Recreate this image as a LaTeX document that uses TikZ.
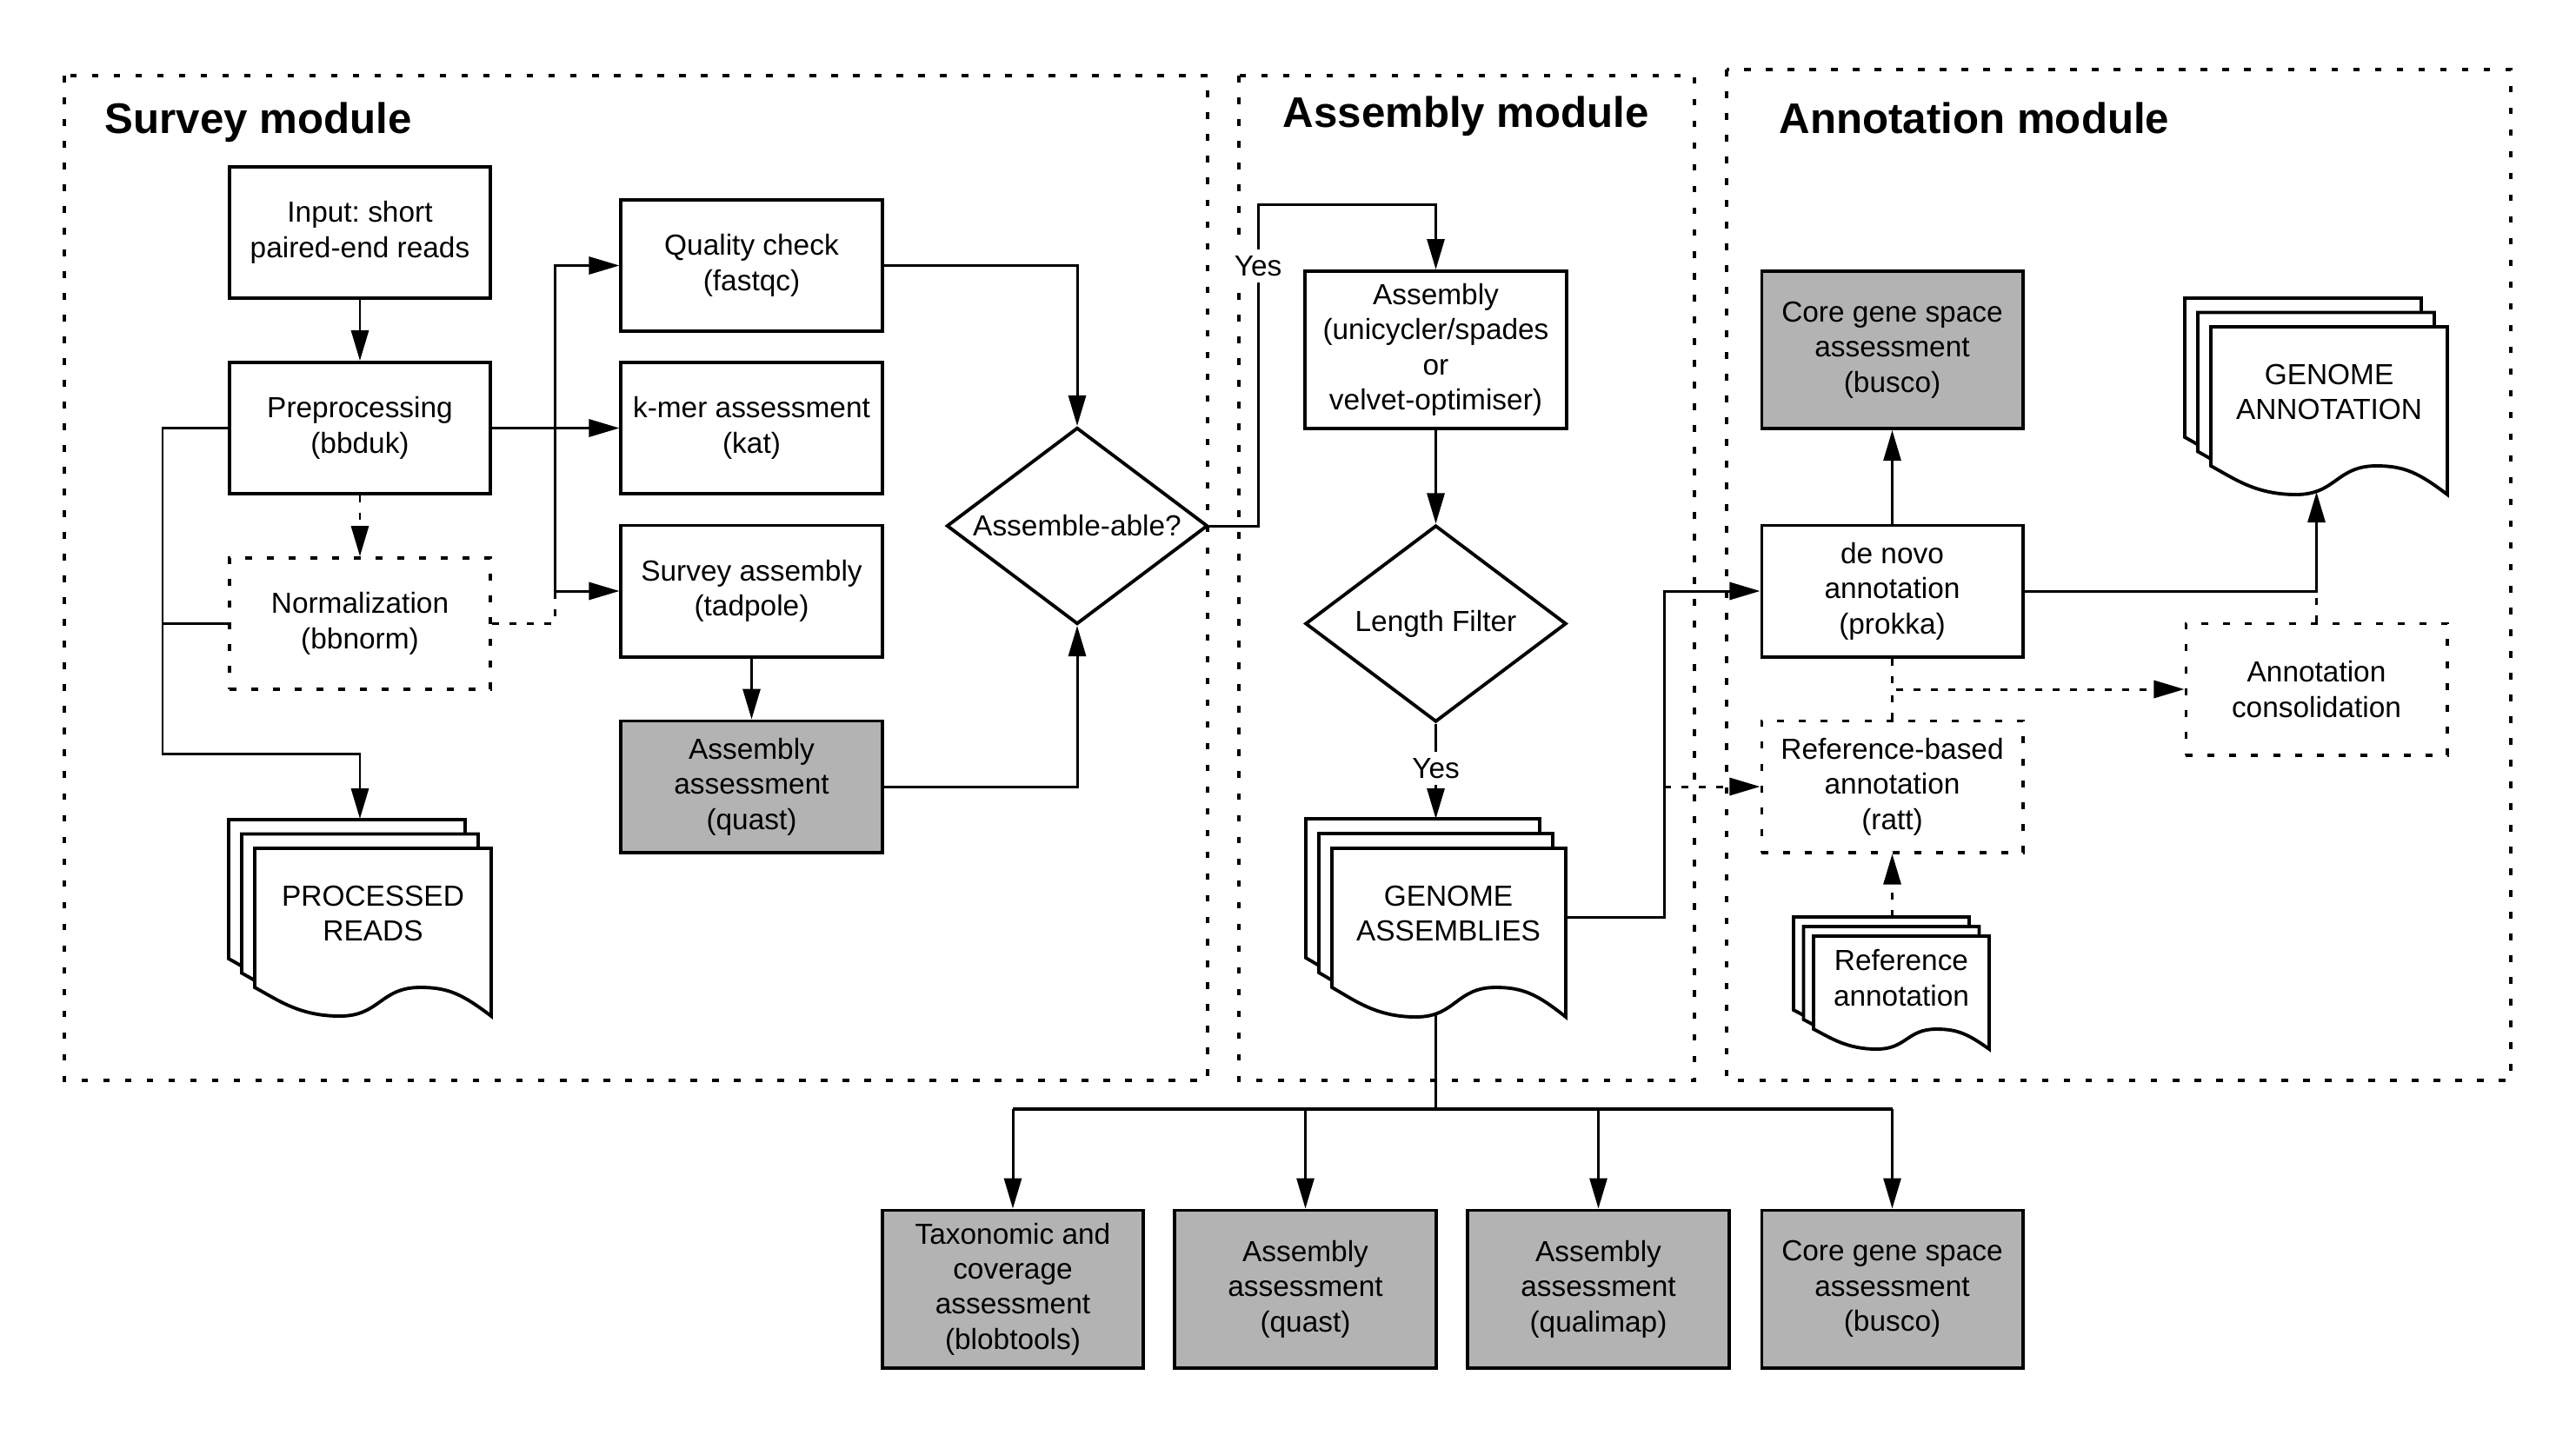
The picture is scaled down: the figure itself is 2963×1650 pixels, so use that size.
\documentclass[tikz,border=0pt]{standalone}
\usepackage{fontspec}
\setmainfont{Liberation Sans}
\frenchspacing
\usetikzlibrary{arrows.meta,shapes.geometric}
\definecolor{boxgray}{RGB}{179,179,179}
\tikzset{
  txt/.style={font=\fontsize{9.5}{11.5}\selectfont, align=center},
  box/.style={txt, draw, line width=1.1pt, fill=white, minimum width=3cm, minimum height=1.51cm, inner sep=1pt},
  tallbox/.style={box, minimum height=1.81cm},
  graybox/.style={tallbox, fill=boxgray},
  dotbox/.style={box, dash pattern=on 0.08cm off 0.17cm},
  decision/.style={draw, diamond, line width=1.1pt, fill=white, inner sep=0pt, minimum width=3cm, minimum height=2.26cm},
  modline/.style={line width=1pt, dash pattern=on 0.075cm off 0.175cm},
  title/.style={font=\bfseries\fontsize{14}{16}\selectfont, anchor=base west, inner sep=0pt},
  conn/.style={line width=0.85pt},
  bus/.style={line width=1.1pt},
  dotl/.style={dash pattern=on 0.08cm off 0.12cm},
  arr/.style={conn, -{Triangle[length=0.35cm,width=0.2cm]}},
  docline/.style={line width=1.1pt, fill=white},
  lbl/.style={txt, fill=white, inner sep=2pt}
}
\newcommand{\docsheet}[5]{% x0, top, w, h, amplitude
  \filldraw[docline] ({#1},{#2}) -- ({#1+#3},{#2}) -- ({#1+#3},{#2+#4})
   .. controls ({#1+0.88*#3},{#2+#4-0.75*#5}) and ({#1+0.82*#3},{#2+#4-#5}) .. ({#1+0.70*#3},{#2+#4-#5})
   .. controls ({#1+0.53*#3},{#2+#4-#5}) and ({#1+0.53*#3},{#2+#4}) .. ({#1+0.36*#3},{#2+#4})
   .. controls ({#1+0.19*#3},{#2+#4}) and ({#1+0.10*#3},{#2+#4-0.55*#5}) .. ({#1},{#2+#4-#5}) -- cycle;}
\newcommand{\multidoc}[7]{% front x0, front top, w, h, amp, dx, dy
  \docsheet{#1-2*#6}{#2-2*#7}{#3}{#4}{#5}
  \docsheet{#1-#6}{#2-#7}{#3}{#4}{#5}
  \docsheet{#1}{#2}{#3}{#4}{#5}}
\begin{document}
\begin{tikzpicture}[x=0.01cm, y=-0.01cm, line join=miter]
\useasboundingbox (0,0) rectangle (2963,1650);

% modules
\draw[modline] (74,87) rectangle (1389,1243);
\draw[modline] (1425,87) rectangle (1949,1243);
\draw[modline] (1986,80) rectangle (2888,1243);
\node[title] (tsurvey) at (120,153) {Survey module};
\node[title] (tassembly) at (1475,146) {Assembly module};
\node[title] (tannot) at (2046,153) {Annotation module};

% coordinates
\coordinate (bp) at (638,492.5);
\coordinate (prtop) at (414,942);
\coordinate (gatop) at (1651.5,942);
\coordinate (gaout) at (1801,1055);
\coordinate (gabot) at (1651.5,1166);
\coordinate (gnin) at (2664.5,566);
\coordinate (ratop) at (2176.5,1055);
\coordinate (busl) at (1165,1276);
\coordinate (busr) at (2176.5,1276);

% documents
\multidoc{293}{976}{272}{193}{33}{15}{16.5}
\node[txt] (procreads) at (429,1051) {PROCESSED\\READS};
\multidoc{1532}{976}{269}{194}{34}{15}{17}
\node[txt] (genasm) at (1666,1051) {GENOME\\ASSEMBLIES};
\multidoc{2543}{376}{272}{193}{33}{15}{16.5}
\node[txt] (genann) at (2679,451) {GENOME\\ANNOTATION};
\multidoc{2086}{1077}{202}{130}{23}{11.5}{11}
\node[txt] (refann) at (2187,1125) {Reference\\annotation};

% survey nodes
\node[box] (input) at (414,267.5) {Input: short\\paired-end reads};
\node[box] (prep) at (414,492.5) {Preprocessing\\(bbduk)};
\node[dotbox] (norm) at (414,717.5) {Normalization\\(bbnorm)};
\node[box] (qc) at (864.5,305.5) {Quality check\\(fastqc)};
\node[box] (kmer) at (864.5,492.5) {k-mer assessment\\(kat)};
\node[box] (survasm) at (864.5,680) {Survey assembly\\(tadpole)};
\node[box, fill=boxgray] (asmassess) at (864.5,905) {Assembly\\assessment\\(quast)};
\node[decision] (able) at (1239,605) {};
\node[txt] (ablet) at (1239,605) {Assemble-able?};

% assembly nodes
\node[tallbox] (assembly) at (1651.5,402.5) {Assembly\\(unicycler/spades\\or\\velvet-optimiser)};
\node[decision] (lenf) at (1651.5,717.5) {};
\node[txt] (lenft) at (1651.5,717.5) {Length Filter};

% annotation nodes
\node[graybox] (busco) at (2176.5,402.5) {Core gene space\\assessment\\(busco)};
\node[box] (denovo) at (2176.5,680) {de novo\\annotation\\(prokka)};
\node[dotbox] (refb) at (2176.5,905) {Reference-based\\annotation\\(ratt)};
\node[dotbox] (cons) at (2664.5,793) {Annotation\\consolidation};

% bottom nodes
\node[graybox] (b1) at (1165,1483) {Taxonomic and\\coverage\\assessment\\(blobtools)};
\node[graybox] (b2) at (1501.5,1483) {Assembly\\assessment\\(quast)};
\node[graybox] (b3) at (1838.5,1483) {Assembly\\assessment\\(qualimap)};
\node[graybox] (b4) at (2176.5,1483) {Core gene space\\assessment\\(busco)};

% survey arrows
\draw[arr] (input) -- (prep);
\draw[arr,dotl] (prep) -- (norm);
\draw[arr] (prep) -- (kmer);
\draw[arr] (bp) |- (qc.west);
\draw[arr] (bp) |- (survasm.west);
\draw[arr] (prep.west) -- (187,492.5) |- (414,867) -- (prtop);
\draw[conn] (norm.west) -- (187,717.5);
\draw[conn,dotl] (norm.east) -| (638,680);
\draw[arr] (qc.east) -| (able.north);
\draw[arr] (survasm) -- (asmassess);
\draw[arr] (asmassess.east) -| (able.south);

% assembly arrows
\draw[arr] (able.east) -- (1447,605) -- (1447,235) -| (assembly.north);
\node[lbl] (yes1) at (1447,306) {Yes};
\draw[arr] (assembly) -- (lenf);
\draw[arr] (lenf.south) -- (gatop);
\node[lbl] (yes2) at (1651.5,884) {Yes};
\draw[arr] (gaout) -- (1914,1055) |- (denovo.west);
\draw[arr,dotl] (1914,905) -- (refb.west);

% annotation arrows
\draw[arr] (denovo) -- (busco);
\draw[arr] (denovo.east) -| (gnin);
\draw[conn,dotl] (cons.north) -- (2664.5,680);
\draw[arr,dotl] (denovo.south) |- (cons.west);
\draw[conn,dotl] (refb.north) -- (2176.5,793);
\draw[arr,dotl] (ratop) -- (refb.south);

% bottom bus
\draw[conn] (gabot) -- (1651.5,1276);
\draw[bus] (busl) -- (busr);
\draw[arr] (busl) -- (b1.north);
\draw[arr] (1501.5,1276) -- (b2.north);
\draw[arr] (1838.5,1276) -- (b3.north);
\draw[arr] (busr) -- (b4.north);
\end{tikzpicture}
\end{document}
